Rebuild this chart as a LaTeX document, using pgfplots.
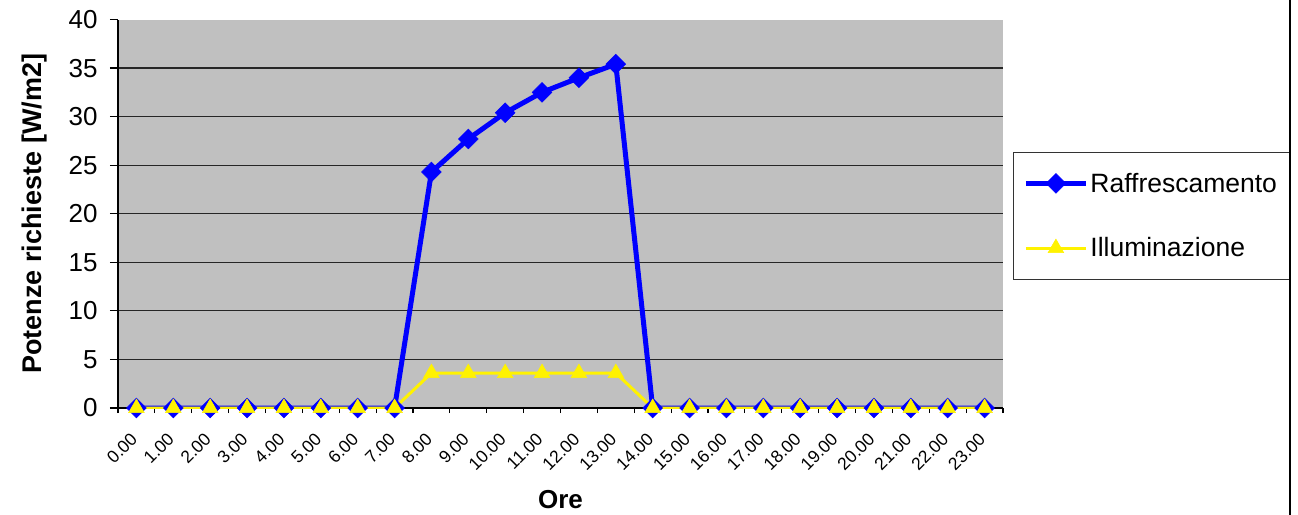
\documentclass[border=0pt]{standalone}
\usepackage{pgfplots}
\pgfplotsset{compat=1.18}
\usepackage{pgfplotstable}
\usepackage{fontspec}
\setmainfont{Liberation Sans}
\definecolor{plotgray}{HTML}{C0C0C0}
\pgfplotstableread{
h R I
0 0 0
1 0 0
2 0 0
3 0 0
4 0 0
5 0 0
6 0 0
7 0 0
8 24.3 3.6
9 27.7 3.6
10 30.4 3.6
11 32.5 3.6
12 34.0 3.6
13 35.4 3.6
14 0 0
15 0 0
16 0 0
17 0 0
18 0 0
19 0 0
20 0 0
21 0 0
22 0 0
23 0 0
}\datatab
\begin{document}
\begin{tikzpicture}
\useasboundingbox (-118bp,-107bp) rectangle (1180bp,408bp);
\begin{axis}[
 at={(0,0)}, anchor=south west,
 scale only axis, width=885bp, height=388.5bp,
 xmin=-0.5, xmax=23.5, ymin=0, ymax=40,
 axis x line*=bottom, axis y line*=left,
 axis line style={line width=1.2bp, black, -},
 tick align=outside,
 xtick={0,...,23},
 xticklabels={0.00,1.00,2.00,3.00,4.00,5.00,6.00,7.00,8.00,9.00,10.00,11.00,12.00,13.00,14.00,15.00,16.00,17.00,18.00,19.00,20.00,21.00,22.00,23.00},
 major x tick style={draw=none},
 minor xtick={-0.5,0.5,...,23.5},
 minor tick length=5bp, major tick length=8bp,
 ytick={0,5,...,35}, extra y ticks={40}, extra y tick style={grid=none},
 ymajorgrids, major grid style={line width=1.2bp, black!85},
 tick style={line width=1.2bp, black},
 axis background/.style={fill=plotgray},
 /pgf/number format/assume math mode=true,
 yticklabel style={font=\fontsize{26bp}{30bp}\selectfont, xshift=-9bp},
 xticklabel style={font=\fontsize{17.5bp}{21bp}\selectfont, rotate=45, anchor=east},
 xticklabel shift=18bp,
 xlabel={Ore}, ylabel={Potenze richieste [W/m2]},
 every axis x label/.style={at={(axis description cs:0.5,0)}, anchor=base, yshift=-100bp, font=\fontsize{26bp}{30bp}\selectfont\bfseries},
 every axis y label/.style={at={(axis description cs:-0.0938,0.5)}, anchor=center, rotate=90, font=\fontsize{27bp}{31bp}\selectfont\bfseries},
 legend cell align=left,
 legend image code/.code={\draw[mark repeat=2,mark phase=2] plot coordinates {(0bp,0bp)(30bp,0bp)(60bp,0bp)};},
 legend style={at={(axis description cs:1.0113,0.6598)}, anchor=north west, draw=black!80, line width=0.8bp,
   font=\fontsize{26.5bp}{30bp}\selectfont, inner xsep=10bp, inner ysep=19bp, row sep=40bp},
]
\addplot[color=blue, line width=5bp, mark=square*, mark size=7bp, mark options={rotate=45, line width=0.5bp}] table[x=h,y=R]{\datatab};
\addlegendentry{Raffrescamento}
\addplot[color=yellow, line width=3bp, mark=triangle*, mark size=9bp, mark options={line width=0.5bp}] table[x=h,y=I]{\datatab};
\addlegendentry{Illuminazione}
\end{axis}
\draw[line width=2bp] (1172bp,-107bp) -- (1172bp,408bp);
\end{tikzpicture}
\end{document}
